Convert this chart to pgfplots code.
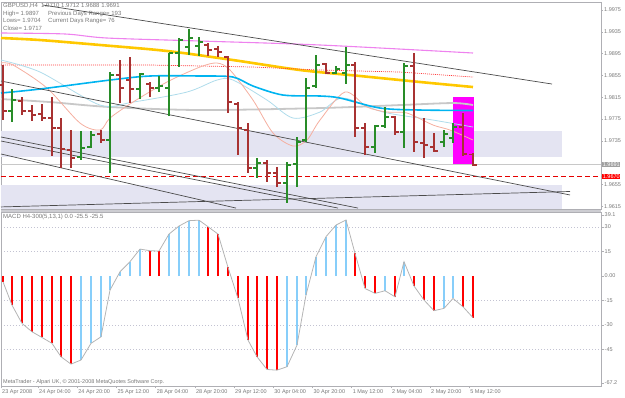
\documentclass[border=0pt]{standalone}
\usepackage{pgfplots}
\pgfplotsset{compat=1.18}
\usepackage{pgfplotstable}
\usepackage{fontspec}
\setmainfont{Liberation Sans}

\definecolor{barg}{RGB}{40,140,40}
\definecolor{barr}{RGB}{168,50,50}
\definecolor{maY}{RGB}{255,200,0}
\definecolor{maB}{RGB}{0,180,240}
\definecolor{maLB}{RGB}{175,220,235}
\definecolor{maS}{RGB}{245,175,160}
\definecolor{maG}{RGB}{200,200,200}
\definecolor{maM}{RGB}{238,130,238}
\definecolor{maR}{RGB}{255,60,60}
\definecolor{trend}{RGB}{75,75,75}
\definecolor{bandc}{RGB}{228,228,242}
\definecolor{boxm}{RGB}{255,0,255}
\definecolor{macdr}{RGB}{255,0,0}
\definecolor{macdb}{RGB}{135,206,250}
\definecolor{macdl}{RGB}{180,180,180}
\definecolor{framec}{RGB}{175,175,180}
\definecolor{labc}{RGB}{120,120,120}
\definecolor{gridc}{RGB}{195,195,210}
\definecolor{grayboxc}{RGB}{160,160,160}
\definecolor{sepc}{RGB}{205,205,210}

\newcommand\tf{\fontsize{5.5}{6}\selectfont}
\newcommand\tfb{\fontsize{6}{7}\selectfont}

\pgfdeclareplotmark{otick}{\pgfpathmoveto{\pgfqpoint{-3.8pt}{0pt}}\pgfpathlineto{\pgfqpoint{0pt}{0pt}}\pgfusepathqstroke}
\pgfdeclareplotmark{ctick}{\pgfpathmoveto{\pgfqpoint{0pt}{0pt}}\pgfpathlineto{\pgfqpoint{3.8pt}{0pt}}\pgfusepathqstroke}

% bullish bars (x = bar position, o h l c = prices)
\pgfplotstableread{
x o h l c
12 1.97896 1.98300 1.97695 1.98098
81 1.97053 1.97530 1.96998 1.97218
91 1.97236 1.97530 1.97218 1.97456
110 1.97365 1.98612 1.96760 1.98557
140 1.98300 1.98594 1.98116 1.98575
159 1.98318 1.98539 1.98245 1.98355
169 1.98318 1.98961 1.97805 1.98961
179 1.98961 1.99236 1.98704 1.99199
189 1.99071 1.99401 1.98924 1.99236
199 1.99089 1.99254 1.98906 1.99163
257 1.96851 1.97035 1.96668 1.96943
287 1.96576 1.96961 1.96210 1.96906
297 1.96925 1.97420 1.96503 1.97328
306 1.97365 1.98502 1.97328 1.98318
316 1.98355 1.98924 1.98318 1.98741
336 1.98594 1.98722 1.98575 1.98667
346 1.98594 1.99071 1.98392 1.98741
375 1.97236 1.97640 1.97126 1.97621
385 1.97621 1.97970 1.97585 1.97786
404 1.97511 1.98777 1.97218 1.98722
444 1.97328 1.97548 1.97236 1.97475
453 1.97401 1.97676 1.97310 1.97603
}\bull

% bearish bars
\pgfplotstableread{
x o h l c
3 1.98378 1.98741 1.97731 1.97896
22 1.98080 1.98153 1.97823 1.97896
32 1.97896 1.98006 1.97713 1.97823
42 1.97841 1.98025 1.97713 1.97768
52 1.97768 1.98153 1.97071 1.97585
61 1.97585 1.97768 1.96851 1.97200
71 1.97181 1.97548 1.96851 1.97035
101 1.97475 1.97548 1.97310 1.97365
120 1.98557 1.98832 1.98043 1.98318
130 1.98465 1.98887 1.98043 1.98300
150 1.98392 1.98429 1.98153 1.98318
208 1.99108 1.99144 1.98906 1.99016
218 1.99034 1.99089 1.98887 1.98979
228 1.98887 1.98906 1.97860 1.98061
238 1.98025 1.98061 1.97090 1.97585
248 1.97548 1.97676 1.96760 1.96851
267 1.96943 1.96998 1.96595 1.96760
277 1.96760 1.96870 1.96503 1.96576
326 1.98759 1.98777 1.98575 1.98594
355 1.98741 1.98796 1.97420 1.97585
365 1.97585 1.97676 1.97090 1.97236
395 1.97786 1.97805 1.97456 1.97511
414 1.98722 1.98961 1.97145 1.97328
424 1.97310 1.97768 1.97035 1.97273
434 1.97236 1.97493 1.97145 1.97163
463 1.97603 1.97860 1.97071 1.97108
473 1.9710 1.9712 1.9688 1.9691
}\bear

% MACD values, all bars
\pgfplotstableread{
x v
3 -3.5
12 -17.8
22 -29.0
32 -34.1
42 -37.6
52 -41.2
61 -49.4
71 -53.9
81 -51.4
91 -41.2
101 -37.2
110 -8.6
120 2.6
130 8.8
140 16.5
150 15.5
159 15.3
169 25.7
179 30.6
189 33.9
199 34.2
208 30.2
218 25.7
228 5.3
238 -13.7
248 -39.2
257 -49.4
267 -57.2
277 -57.6
287 -55.5
297 -42.3
306 -11.6
316 11.8
326 24.1
336 31.2
346 34.3
355 13.9
365 -7.6
375 -10.6
385 -9.0
395 -12.7
404 8.8
414 -6.1
424 -14.7
434 -21.2
444 -19.8
453 -13.7
463 -18.8
473 -25.5
}\macd

% MACD bars that fall (red)
\pgfplotstableread{
x v
3 -3.5
12 -17.8
22 -29.0
32 -34.1
42 -37.6
52 -41.2
61 -49.4
71 -53.9
150 15.5
159 15.3
208 30.2
218 25.7
228 5.3
238 -13.7
248 -39.2
257 -49.4
267 -57.2
277 -57.6
355 13.9
365 -7.6
375 -10.6
395 -12.7
414 -6.1
424 -14.7
434 -21.2
463 -18.8
473 -25.5
}\macdred

% MACD bars that rise (light blue)
\pgfplotstableread{
x v
81 -51.4
91 -41.2
101 -37.2
110 -8.6
120 2.6
130 8.8
140 16.5
169 25.7
179 30.6
189 33.9
199 34.2
287 -55.5
297 -42.3
306 -11.6
316 11.8
326 24.1
336 31.2
346 34.3
385 -9.0
404 8.8
444 -19.8
453 -13.7
}\macdblue

\begin{document}
\begin{tikzpicture}
\path[use as bounding box] (0,0) rectangle (625pt,397pt);
\fill[sepc] (1pt,185pt) rectangle (601pt,188pt);

% ---------------- price panel ----------------
\begin{axis}[
  at={(1pt,188pt)}, anchor=south west, scale only axis,
  width=600pt, height=207pt,
  xmin=1, xmax=601, ymin=1.96099, ymax=1.99897,
  clip=false,
  axis line style={draw=framec, line width=0.6pt},
  xtick=\empty,
  ytick={1.9975,1.9935,1.9895,1.9855,1.9815,1.9775,1.9735,1.9655,1.9615},
  yticklabels={1.9975,1.9935,1.9895,1.9855,1.9815,1.9775,1.9735,1.9655,1.9615},
  ytick pos=right, yticklabel pos=right,
  tick align=outside, major tick length=2pt,
  tick style={draw=framec, line width=0.5pt},
  yticklabel style={font=\tf, text=labc, anchor=west, inner sep=1pt},
]
% shaded bands
\addplot[draw=none, fill=bandc] coordinates {(1,1.97530) (562,1.97530) (562,1.97053) (1,1.97053)} -- cycle;
\addplot[draw=none, fill=bandc] coordinates {(1,1.96540) (562,1.96540) (562,1.96099) (1,1.96099)} -- cycle;
% magenta range box
\addplot[draw=none, fill=boxm] coordinates {(453,1.9691) (473.5,1.9691) (473.5,1.98153) (453,1.98153)} -- cycle;
% horizontal lines
\addplot[maG, line width=0.8pt] coordinates {(1,1.9691) (601,1.9691)};
\addplot[red!90!black, line width=0.8pt, dash pattern=on 5pt off 3pt] coordinates {(1,1.9670) (601,1.9670)};
% moving averages
\addplot[maY, line width=2.6pt, smooth] coordinates {(1,1.99236) (40,1.99199) (100,1.99108) (167,1.98998) (233,1.98832) (300,1.98649) (360,1.98539) (420,1.98429) (473,1.98337)};
\addplot[maM, line width=1.1pt, smooth] coordinates {(1,1.99328) (65,1.99310) (107,1.99236) (200,1.99181) (320,1.99108) (473,1.98961)};
\addplot[maR, line width=0.7pt, dash pattern=on 1pt off 1pt] coordinates {(1,1.98741) (150,1.98741) (253,1.98704) (320,1.98649) (400,1.98612) (473,1.98520)};
\addplot[maG, line width=1.8pt, smooth] coordinates {(1,1.98116) (50,1.98061) (110,1.97970) (200,1.97915) (320,1.97951) (400,1.98006) (453,1.98043) (473,1.98006)};
\addplot[maLB, line width=0.8pt, smooth] coordinates {(1,1.98832) (40,1.98612) (100,1.98006) (133,1.98061) (187,1.98245) (217,1.98465) (233,1.98465) (267,1.98098) (293,1.97768) (320,1.97878) (343,1.98135) (383,1.97878) (433,1.97731) (473,1.97603)};
\addplot[maS, line width=0.8pt, smooth] coordinates {(1,1.98777) (13,1.98741) (47,1.98318) (80,1.97676) (100,1.97548) (110,1.97768) (133,1.98061) (167,1.98429) (200,1.98704) (217,1.98777) (230,1.98649) (253,1.98098) (273,1.97493) (293,1.97255) (307,1.97365) (320,1.97731) (345,1.98245) (367,1.97970) (387,1.97878) (407,1.97860) (433,1.97640) (450,1.97548) (473,1.97365)};
\addplot[maB, line width=1.6pt, smooth] coordinates {(1,1.98227) (40,1.98300) (110,1.98465) (150,1.98539) (200,1.98539) (233,1.98520) (253,1.98355) (283,1.98190) (320,1.98172) (340,1.98135) (380,1.97951) (420,1.97915) (473,1.97906)};
% trend lines
\addplot[trend, line width=0.7pt] coordinates {(43,1.99841) (552,1.98392)};
\addplot[trend, line width=0.7pt] coordinates {(1,1.98447) (570,1.96356)};
\addplot[trend, line width=0.7pt] coordinates {(1,1.97420) (358,1.96116)};
\addplot[trend, line width=0.7pt] coordinates {(1,1.97346) (338,1.96116)};
\addplot[trend, line width=0.7pt] coordinates {(1,1.97108) (236,1.96116)};
\addplot[trend, line width=0.7pt] coordinates {(1,1.96137) (570,1.96420)};
% OHLC bars: bullish
\addplot[draw=none, mark=none,
  error bars/.cd, y dir=minus, y explicit, error mark=none,
  error bar style={draw=barg, line width=1.8pt, solid}]
  table[x=x, y=h, y error minus expr=\thisrow{h}-\thisrow{l}] {\bull};
\addplot[only marks, mark=otick, mark options={draw=barg, line width=1.6pt, solid}] table[x=x, y=o] {\bull};
\addplot[only marks, mark=ctick, mark options={draw=barg, line width=1.6pt, solid}] table[x=x, y=c] {\bull};
% OHLC bars: bearish
\addplot[draw=none, mark=none,
  error bars/.cd, y dir=minus, y explicit, error mark=none,
  error bar style={draw=barr, line width=1.8pt, solid}]
  table[x=x, y=h, y error minus expr=\thisrow{h}-\thisrow{l}] {\bear};
\addplot[only marks, mark=otick, mark options={draw=barr, line width=1.6pt, solid}] table[x=x, y=o] {\bear};
\addplot[only marks, mark=ctick, mark options={draw=barr, line width=1.6pt, solid}] table[x=x, y=c] {\bear};
% price boxes on the scale
\node[fill=grayboxc, text=white, font=\tf, inner sep=0.7pt, anchor=west] at (axis cs:602,1.9691) {1.9691};
\node[fill=red, text=white, font=\tf, inner sep=0.7pt, anchor=west] at (axis cs:602,1.9670) {1.9670};
\end{axis}

% ---------------- MACD panel ----------------
\begin{axis}[
  at={(1pt,11pt)}, anchor=south west, scale only axis,
  width=600pt, height=174pt,
  xmin=1, xmax=601, ymin=-67.3, ymax=39.2,
  axis line style={draw=framec, line width=0.6pt},
  ytick={30,15,-15,-30,-45},
  yticklabels={30,15,-15,-30,-45},
  extra y ticks={0,37.4,-65.5},
  extra y tick labels={0.00,39.1,-67.2},
  extra y tick style={grid=none},
  ymajorgrids, grid style={gridc, line width=0.5pt, dash pattern=on 1pt off 2pt},
  ytick pos=right, yticklabel pos=right,
  xtick={1,38,77.2,116.4,155.6,194.8,234,273.2,312.4,351.6,390.8,430,469.2},
  xticklabels={23 Apr 2008,24 Apr 04:00,24 Apr 20:00,25 Apr 12:00,28 Apr 04:00,28 Apr 20:00,29 Apr 12:00,30 Apr 04:00,30 Apr 20:00,1 May 12:00,2 May 04:00,2 May 20:00,5 May 12:00},
  xtick pos=bottom,
  tick align=outside, major tick length=2.5pt,
  tick style={draw=framec, line width=0.5pt},
  yticklabel style={font=\tf, text=labc, anchor=west, inner sep=1pt},
  xticklabel style={font=\tf, text=labc, anchor=north west, inner sep=0.5pt, xshift=0.5pt},
]
\addplot[ycomb, draw=macdr, line width=2pt, mark=none] table[x=x, y=v] {\macdred};
\addplot[ycomb, draw=macdb, line width=2pt, mark=none] table[x=x, y=v] {\macdblue};
\addplot[macdl, line width=0.8pt, mark=none] table[x=x, y=v] {\macd};
\end{axis}

% ---------------- texts ----------------
\begin{scope}[every node/.style={anchor=base west, inner sep=0pt, text=labc}]
\node[font=\tfb] at (3pt,389pt) {GBPUSD,H4\ \ 1.9710 1.9712 1.9688 1.9691};
\node[font=\tfb] at (3pt,381.5pt) {High= 1.9897};
\node[font=\tfb] at (48pt,381.5pt) {Previous Days Range= 193};
\node[font=\tfb] at (3pt,374pt) {Lows= 1.9704};
\node[font=\tfb] at (48pt,374pt) {Current Days Range= 76};
\node[font=\tfb] at (3pt,366.5pt) {Close= 1.9717};
\node[font=\tfb] at (3pt,178pt) {MACD H4-300(5,13,1) 0.0 -25.5 -25.5};
\node[font=\tf] at (3pt,13.5pt) {MetaTrader - Alpari UK, © 2001-2008 MetaQuotes Software Corp.};
\end{scope}
\end{tikzpicture}
\end{document}
